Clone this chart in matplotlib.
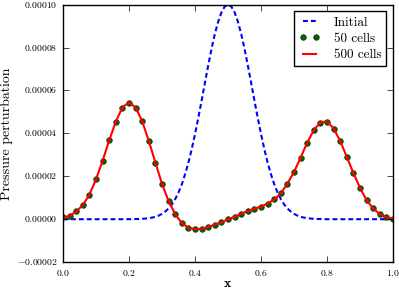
import matplotlib
matplotlib.use("Agg")
import matplotlib.pyplot as plt
import numpy as np
from matplotlib.ticker import FuncFormatter, MultipleLocator

# pressure values are given in units of 1e-6
x_cells = np.arange(51) * 0.02
p_50 = [0.8, 1.6, 3.6, 6.6, 11.5, 18.6, 27.3, 36.7, 45.4, 52.0,
        54.2, 52.0, 45.6, 36.4, 26.4, 16.4, 8.4, 2.3, -1.7, -3.9,
        -4.5, -4.5, -3.6, -2.5, -1.4, 0.0, 1.1, 2.6, 3.8, 4.9,
        5.9, 7.3, 9.2, 12.0, 16.6, 22.0, 28.7, 35.7, 41.4, 45.0,
        45.4, 42.2, 36.4, 29.0, 21.5, 14.6, 8.8, 5.0, 2.3, 1.1,
        0.3]
p_500 = [0.6, 1.6, 3.6, 6.6, 11.5, 18.6, 27.3, 36.8, 45.5, 52.2,
         54.4, 52.1, 45.6, 36.4, 26.4, 16.4, 8.4, 2.3, -1.8, -4.0,
         -4.6, -4.5, -3.6, -2.5, -1.4, 0.0, 1.1, 2.6, 3.8, 4.9,
         5.9, 7.3, 9.2, 12.0, 16.6, 22.0, 28.7, 35.7, 41.5, 45.2,
         45.6, 42.3, 36.4, 29.0, 21.5, 14.6, 8.8, 5.0, 2.3, 1.0,
         0.2]

x_init = np.concatenate(([0.0], np.arange(20, 81) / 100, [1.0]))
p_init = [0.0,
          0.0, 0.04, 0.1, 0.1, 0.2, 0.3, 0.5, 0.75, 1.1, 1.7,
          2.5, 3.6, 5.0, 6.9, 9.4, 12.5, 16.3, 21.0, 26.4, 32.7,
          39.7, 47.3, 55.3, 63.6, 71.7, 79.4, 86.3, 92.0, 96.4, 99.1,
          100.0,
          99.1, 96.4, 92.0, 86.3, 79.4, 71.7, 63.6, 55.3, 47.3, 39.7,
          32.7, 26.4, 21.0, 16.3, 12.5, 9.4, 6.9, 5.0, 3.6, 2.5,
          1.7, 1.1, 0.75, 0.5, 0.3, 0.2, 0.1, 0.1, 0.04, 0.0,
          0.0]

plt.style.use("classic")
plt.rcParams["mathtext.fontset"] = "cm"
plt.rcParams["font.family"] = ["cmr10", "DejaVu Serif"]
plt.rcParams["axes.unicode_minus"] = False

fig = plt.figure(figsize=(3.99, 2.89), dpi=100, facecolor="white")
ax = fig.add_axes([0.158, 0.093, 0.827, 0.891])

ax.plot(x_init, np.array(p_init) * 1e-6, "b--", linewidth=1.5, dashes=(3.5, 2.2),
        label="Initial")
ax.plot(x_cells, np.array(p_50) * 1e-6, "o", color=(0, 0.4, 0), markeredgecolor="#1a2a10",
        markersize=4, linestyle="none", label="50 cells")
ax.plot(x_cells, np.array(p_500) * 1e-6, "r-", linewidth=1.5, label="500 cells")

ax.set_xlim(0, 1)
ax.set_ylim(-0.00002, 0.0001)
ax.xaxis.set_major_locator(MultipleLocator(0.2))
ax.yaxis.set_major_locator(MultipleLocator(0.00002))
ax.xaxis.set_major_formatter(FuncFormatter(lambda v, p: f"${v:.1f}$"))
ax.yaxis.set_major_formatter(
    FuncFormatter(lambda v, p: f"${0 if abs(v) < 1e-12 else v:.5f}$"))
ax.tick_params(axis="both", which="major", direction="in", length=4, width=0.5,
               labelsize=7, pad=4, top=True, right=True)
for spine in ax.spines.values():
    spine.set_linewidth(1.0)

ax.set_xlabel(r"$\mathbf{x}$", fontsize=10)
ax.set_ylabel("Pressure perturbation", fontsize=10)
ax.xaxis.set_label_coords(0.5, -0.06)
ax.yaxis.set_label_coords(-0.152, 0.5)

ax.legend(loc="upper right", numpoints=2, fontsize=9.5, handlelength=1.6,
          handletextpad=1.0, labelspacing=0.3, borderaxespad=0.5,
          fancybox=False, frameon=True, edgecolor="black")

fig.savefig("out.png", dpi=100, facecolor="white")
